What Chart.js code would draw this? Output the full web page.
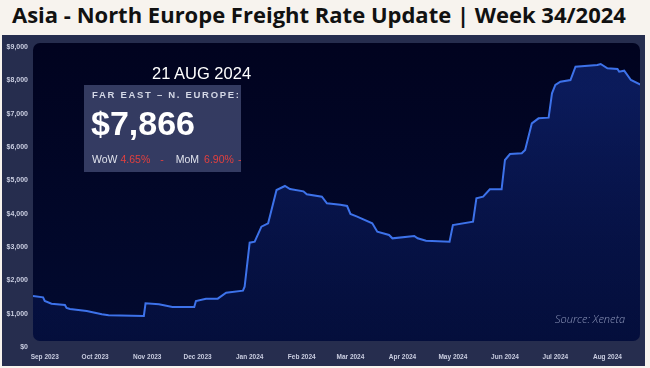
<!DOCTYPE html>
<html lang="en">
<head>
  <meta charset="UTF-8">
  <title>Asia - North Europe Freight Rate Update</title>
  <script src="https://cdn.jsdelivr.net/npm/chart.js"></script>
  <style>
    body {
      margin: 0;
      width: 650px;
      height: 368px;
      background: #f7f3ee;
      position: relative;
      overflow: hidden;
      font-family: "Liberation Sans", Arial, sans-serif;
    }
    h1 {
      position: absolute;
      left: 12px;
      top: 0;
      margin: 0;
      font-family: "Open Sans", sans-serif;
      font-weight: 700;
      font-size: 22px;
      line-height: 28px;
      color: #111;
      white-space: nowrap;
    }
    #panel {
      position: absolute;
      left: 2px;
      top: 35px;
      width: 643px;
      height: 331px;
      background: #262d4e;
    }
    #panel canvas { position: absolute; left: 0; top: 0; }
    .date {
      position: absolute;
      left: 150px;
      top: 29px;
      color: #fff;
      font-size: 16.5px;
    }
    .box {
      position: absolute;
      left: 82px;
      top: 50px;
      width: 157px;
      height: 87px;
      background: rgba(72, 80, 122, 0.72);
    }
    .route {
      position: absolute;
      left: 8px;
      top: 4px;
      font-size: 9.5px;
      font-weight: 700;
      letter-spacing: 1.7px;
      color: #d4d8e6;
      white-space: nowrap;
    }
    .price {
      position: absolute;
      left: 7px;
      top: 19px;
      font-size: 34px;
      font-weight: 700;
      color: #fff;
    }
    .chg {
      position: absolute;
      left: 8px;
      top: 68px;
      font-size: 10.5px;
      color: #dfe2ec;
      white-space: nowrap;
    }
    .chg span { display: inline-block; }
    .chg .red { color: #e2403f; }
    .chg .pct { margin-left: 3px; }
    .chg .pct2 { margin-left: 5px; }
    .chg .dash { margin-left: 10px; }
    .chg .lbl2 { margin-left: 12px; }
    .chg .dash2 { margin-left: 4px; }
    .source {
      position: absolute;
      left: 553px;
      top: 276px;
      font-family: "Open Sans", sans-serif;
      font-style: italic;
      font-weight: 300;
      font-size: 11px;
      color: #8e97bb;
    }
  </style>
</head>
<body>
  <h1>Asia - North Europe Freight Rate Update | Week 34/2024</h1>
  <div id="panel">
    <canvas id="rateChart" width="643" height="331"></canvas>
    <div class="date">21 AUG 2024</div>
    <div class="box">
      <div class="route">FAR EAST – N. EUROPE:</div>
      <div class="price">$7,866</div>
      <div class="chg"><span>WoW</span><span class="red pct">4.65%</span><span class="red dash">-</span><span class="lbl2">MoM</span><span class="red pct2">6.90%</span><span class="red dash2">-</span></div>
    </div>
    <div class="source">Source: Xeneta</div>
  </div>

  <script>
    // Freight rate (USD per FEU), Far East -> North Europe
    const dates = [
      "2023-08-25", "2023-08-31", "2023-09-01", "2023-09-05", "2023-09-13", "2023-09-14",
      "2023-09-16", "2023-09-26", "2023-10-05", "2023-10-09", "2023-10-30", "2023-10-31",
      "2023-11-08", "2023-11-16", "2023-11-29", "2023-11-30", "2023-12-06", "2023-12-13",
      "2023-12-18", "2023-12-28", "2023-12-29", "2024-01-01", "2024-01-04", "2024-01-08",
      "2024-01-12", "2024-01-17", "2024-01-22", "2024-01-25", "2024-02-02", "2024-02-04",
      "2024-02-13", "2024-02-16", "2024-02-24", "2024-02-28", "2024-03-01", "2024-03-05",
      "2024-03-14", "2024-03-17", "2024-03-24", "2024-03-26", "2024-04-08", "2024-04-10",
      "2024-04-15", "2024-04-29", "2024-05-01", "2024-05-13", "2024-05-15", "2024-05-19",
      "2024-05-23", "2024-05-30", "2024-06-01", "2024-06-04", "2024-06-11", "2024-06-13",
      "2024-06-17", "2024-06-21", "2024-06-27", "2024-06-29", "2024-07-01", "2024-07-04",
      "2024-07-10", "2024-07-13", "2024-07-26", "2024-07-28", "2024-08-01", "2024-08-07",
      "2024-08-08", "2024-08-11", "2024-08-15", "2024-08-21"
    ];
    const rates = [
      1530, 1490, 1380, 1300, 1260, 1170,
      1140, 1080, 980, 950, 930, 1310,
      1280, 1200, 1200, 1380, 1450, 1450,
      1630, 1690, 1810, 3130, 3160, 3610,
      3710, 4710, 4830, 4740, 4670, 4580,
      4510, 4310, 4270, 4230, 3990, 3910,
      3710, 3460, 3360, 3260, 3330, 3260,
      3190, 3160, 3660, 3760, 4460, 4510,
      4730, 4730, 5610, 5790, 5810, 5910,
      6710, 6860, 6880, 7610, 7860, 7960,
      8010, 8410, 8460, 8490, 8360, 8340,
      8260, 8290, 8010, 7866
    ];
    const monthStarts = [
      "2023-09-01", "2023-10-01", "2023-11-01", "2023-12-01", "2024-01-01", "2024-02-01",
      "2024-03-01", "2024-04-01", "2024-05-01", "2024-06-01", "2024-07-01", "2024-08-01"
    ];
    const monthLabels = [
      "Sep 2023", "Oct 2023", "Nov 2023", "Dec 2023", "Jan 2024", "Feb 2024",
      "Mar 2024", "Apr 2024", "May 2024", "Jun 2024", "Jul 2024", "Aug 2024"
    ];

    // days counted from 1 Sep 2023
    const base = Date.UTC(2023, 8, 1);
    const toDay = s => (Date.parse(s + "T00:00:00Z") - base) / 86400000;
    const monthDays = monthStarts.map(toDay);

    // dark rounded plot background + clip the line/fill to it
    function plotRect(chart) {
      const a = chart.chartArea;
      return { x: a.left, y: a.top - 4, w: a.right - a.left - 1, h: a.bottom - a.top - 2 };
    }
    const plotBg = {
      id: "plotBg",
      beforeDatasetsDraw(chart) {
        const ctx = chart.ctx;
        const r = plotRect(chart);
        ctx.save();
        ctx.beginPath();
        ctx.roundRect(r.x, r.y, r.w, r.h, 7);
        const g = ctx.createLinearGradient(0, r.y, 0, r.y + r.h);
        g.addColorStop(0, "#01031f");
        g.addColorStop(1, "#020a30");
        ctx.fillStyle = g;
        ctx.fill();
        ctx.clip();
      },
      afterDatasetsDraw(chart) {
        chart.ctx.restore();
      }
    };

    const ctx = document.getElementById("rateChart").getContext("2d");
    new Chart(ctx, {
      type: "line",
      data: {
        datasets: [{
          data: dates.map((d, i) => ({ x: toDay(d), y: rates[i] })),
          borderColor: "#3d72ea",
          borderWidth: 2,
          pointRadius: 0,
          tension: 0,
          fill: "start",
          backgroundColor: function (c) {
            const area = c.chart.chartArea;
            if (!area) return "rgba(20,50,160,0.25)";
            const g = c.chart.ctx.createLinearGradient(0, area.top + 40, 0, area.bottom);
            g.addColorStop(0, "rgba(24,58,170,0.42)");
            g.addColorStop(1, "rgba(18,44,140,0.12)");
            return g;
          }
        }]
      },
      options: {
        responsive: false,
        animation: false,
        layout: { padding: { top: 12, right: 4, left: 0, bottom: 0 } },
        plugins: {
          legend: { display: false },
          tooltip: { enabled: false }
        },
        scales: {
          x: {
            type: "linear",
            min: -7,
            max: 355,
            grid: { display: false, drawTicks: false },
            border: { display: false },
            afterBuildTicks: axis => {
              axis.ticks = monthDays.map(v => ({ value: v }));
            },
            afterFit: axis => { axis.height = 19; },
            ticks: {
              autoSkip: false,
              maxRotation: 0,
              padding: 6,
              color: "#c9cde0",
              font: { family: "Liberation Sans", size: 6.5, weight: "bold" },
              callback: value => monthLabels[monthDays.indexOf(value)]
            }
          },
          y: {
            min: 0,
            max: 9000,
            grid: { display: false, drawTicks: false },
            border: { display: false },
            afterFit: axis => { axis.width = 31; },
            ticks: {
              stepSize: 1000,
              padding: 5,
              color: "#c9cde0",
              font: { family: "Liberation Sans", size: 7, weight: "bold" },
              callback: value => "$" + value.toLocaleString("en-US")
            }
          }
        }
      },
      plugins: [plotBg]
    });
  </script>
</body>
</html>
